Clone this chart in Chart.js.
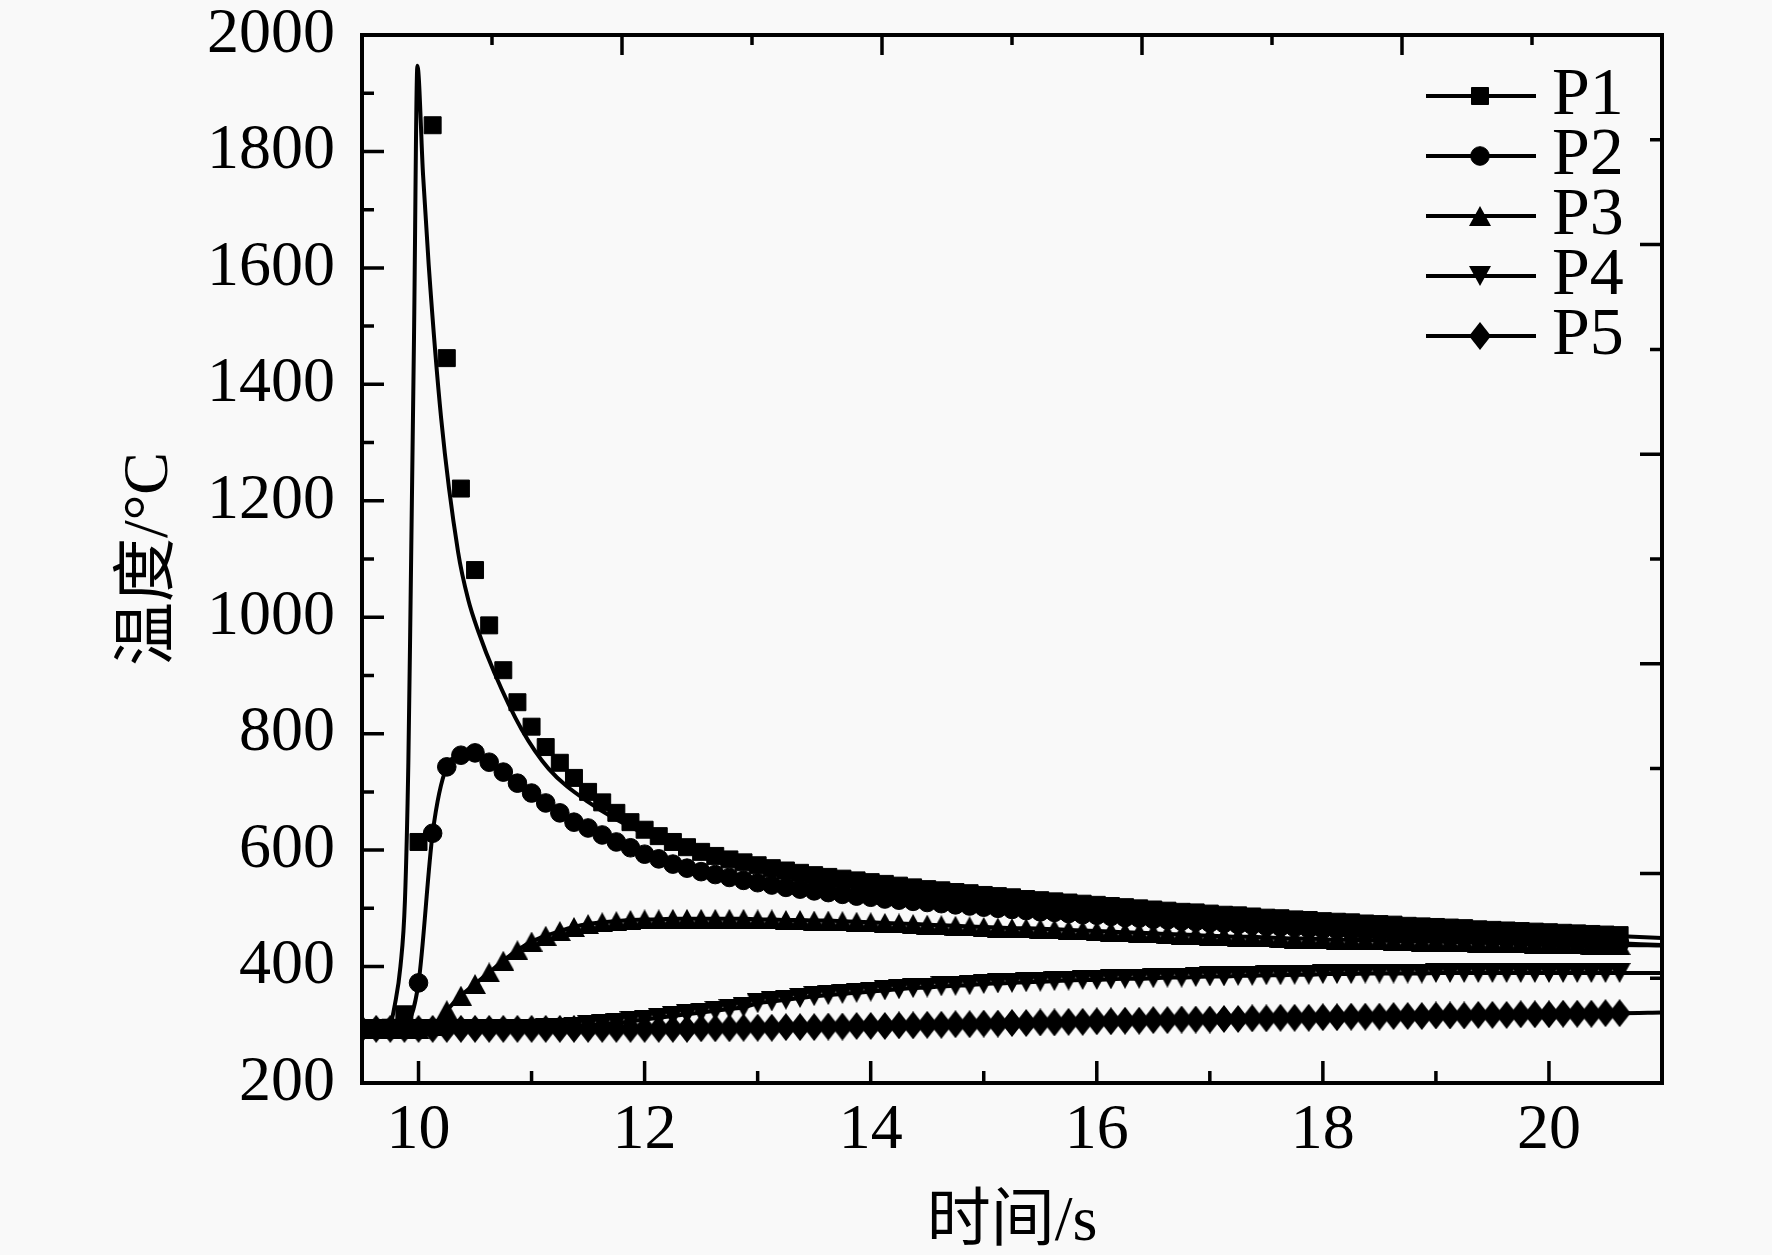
<!DOCTYPE html>
<html>
<head>
<meta charset="utf-8">
<script src="https://cdn.jsdelivr.net/npm/chart.js@4.4.1/dist/chart.umd.min.js"></script>
<style>
  html, body { margin: 0; padding: 0; background: #f9f9f9; }
  #wrap { width: 1772px; height: 1255px; }
</style>
</head>
<body>
<div id="wrap"><canvas id="chart" width="1772" height="1255"></canvas></div>
<script>
// time axis (s), one marker every 0.125 s, last point only carries the line to the frame
const time = [9.5, 9.625, 9.75, 9.875,
  10, 10.125, 10.25, 10.375, 10.5, 10.625, 10.75, 10.875,
  11, 11.125, 11.25, 11.375, 11.5, 11.625, 11.75, 11.875,
  12, 12.125, 12.25, 12.375, 12.5, 12.625, 12.75, 12.875,
  13, 13.125, 13.25, 13.375, 13.5, 13.625, 13.75, 13.875,
  14, 14.125, 14.25, 14.375, 14.5, 14.625, 14.75, 14.875,
  15, 15.125, 15.25, 15.375, 15.5, 15.625, 15.75, 15.875,
  16, 16.125, 16.25, 16.375, 16.5, 16.625, 16.75, 16.875,
  17, 17.125, 17.25, 17.375, 17.5, 17.625, 17.75, 17.875,
  18, 18.125, 18.25, 18.375, 18.5, 18.625, 18.75, 18.875,
  19, 19.125, 19.25, 19.375, 19.5, 19.625, 19.75, 19.875,
  20, 20.125, 20.25, 20.375, 20.5, 20.625,
  21];

const tempP1 = [293, 293, 295, 318,
  614, 1845, 1445, 1221, 1081, 986, 909, 854,
  812, 777, 750, 724, 700, 682, 664, 648,
  635, 624, 614, 605, 597, 590, 584, 579,
  574, 569, 565, 561, 557, 554, 551, 548,
  545, 542, 539, 536, 533, 531, 528, 526,
  523, 521, 519, 516, 514, 512, 510, 508,
  506, 504, 502, 500, 498, 496, 494, 493,
  491, 489, 488, 486, 484, 483, 481, 480,
  478, 477, 476, 474, 473, 472, 470, 469,
  468, 467, 466, 464, 463, 462, 461, 460,
  459, 458, 457, 456, 455, 454,
  449];

const tempP2 = [293, 293, 293, 298,
  372, 629, 743, 763, 767, 751, 734, 715,
  698, 681, 664, 648, 638, 626, 614, 604,
  593, 585, 576, 569, 563, 558, 553, 548,
  544, 540, 536, 533, 530, 527, 524, 521,
  519, 516, 514, 512, 510, 508, 506, 504,
  502, 500, 498, 496, 494, 493, 491, 489,
  488, 486, 484, 483, 481, 480, 478, 477,
  475, 474, 472, 471, 469, 468, 467, 465,
  464, 463, 461, 460, 459, 457, 456, 455,
  454, 452, 451, 450, 449, 448, 447, 446,
  445, 444, 443, 442, 441, 440,
  437];

const tempP3 = [293, 293, 293, 293,
  293, 298, 325, 350, 370, 390, 410, 428,
  443, 453, 461, 468, 473, 476, 478, 480,
  481, 481, 482, 482, 482, 482, 482, 482,
  481, 481, 480, 480, 479, 479, 478, 477,
  476, 475, 474, 473, 472, 471, 470, 469,
  468, 467, 466, 466, 465, 464, 463, 462,
  461, 460, 459, 458, 457, 456, 455, 454,
  453, 452, 451, 451, 450, 449, 448, 448,
  447, 446, 446, 445, 445, 444, 444, 443,
  443, 442, 442, 441, 441, 440, 440, 439,
  439, 438, 438, 437, 437, 437,
  436];

const tempP4 = [293, 293, 293, 293,
  293, 293, 293, 293, 293, 293, 293, 293,
  293, 294, 295, 297, 299, 301, 303, 306,
  309, 312, 315, 318, 321, 324, 327, 330,
  337, 340, 343, 346, 349, 351, 353, 355,
  357, 359, 361, 363, 364, 366, 367, 368,
  370, 371, 372, 373, 374, 375, 376, 377,
  377, 378, 379, 379, 380, 381, 381, 382,
  383, 383, 384, 384, 385, 385, 386, 386,
  387, 387, 387, 388, 388, 388, 388, 388,
  389, 389, 389, 389, 389, 389, 389, 389,
  389, 389, 389, 389, 389, 389,
  389];

const tempP5 = [293, 293, 293, 293,
  293, 293, 293, 293, 293, 293, 293, 293,
  293, 293, 293, 293, 293, 293, 293, 293,
  293, 293, 293, 293, 294, 294, 294, 295,
  295, 295, 296, 296, 296, 297, 297, 298,
  298, 298, 299, 299, 300, 300, 301, 301,
  302, 302, 303, 303, 304, 304, 305, 305,
  306, 306, 307, 307, 308, 308, 309, 309,
  309, 310, 310, 311, 311, 312, 312, 312,
  313, 313, 314, 314, 314, 315, 315, 315,
  316, 316, 316, 317, 317, 317, 318, 318,
  318, 319, 319, 319, 320, 320,
  321];

// the P1 curve itself runs a little ahead of its markers and peaks higher
const lineP1Time = [9.5, 9.7, 9.75, 9.79, 9.84, 9.88, 9.91, 9.93, 9.96, 9.99, 10.04, 10.09,
  10.2, 10.35, 10.44, 10.53, 10.67, 10.91, 11.15, 11.5, 12, 12.5, 13, 14, 15, 16, 17, 18, 19, 20, 21];
const lineP1Temp = [293, 294, 300, 334, 400, 514, 750, 1030, 1480, 1947, 1760, 1605,
  1342, 1112, 1030, 975, 905, 808, 740, 683, 628, 593, 572, 546, 524, 505, 489, 477, 467, 458, 449];

const xTicks = [10, 12, 14, 16, 18, 20];
const xMinorTicks = [11, 13, 15, 17, 19, 21];
const yTicks = [200, 400, 600, 800, 1000, 1200, 1400, 1600, 1800, 2000];
const yMinorTicks = [300, 500, 700, 900, 1100, 1300, 1500, 1700, 1900];
// top and right frame axes carry their own unlabeled ticks
const frameTicks = [0, 2, 4, 6, 8, 10];
const frameMinorTicks = [1, 3, 5, 7, 9];

const serif = "'Liberation Serif', 'Times New Roman', 'Noto Sans CJK SC', serif";

// Origin-like symbols: triangles and diamonds drawn to their own box
function marker(kind, w, h) {
  const c = document.createElement('canvas');
  c.width = w;
  c.height = h;
  const g = c.getContext('2d');
  g.fillStyle = '#000';
  g.beginPath();
  if (kind === 'up') {
    g.moveTo(w / 2, 0); g.lineTo(w, h); g.lineTo(0, h);
  } else if (kind === 'down') {
    g.moveTo(0, 0); g.lineTo(w, 0); g.lineTo(w / 2, h);
  } else {
    g.moveTo(w / 2, 0); g.lineTo(w, h / 2); g.lineTo(w / 2, h); g.lineTo(0, h / 2);
  }
  g.closePath();
  g.fill();
  return c;
}

const upTriangle = marker('up', 22, 20);
const downTriangle = marker('down', 22, 20);
const diamond = marker('diamond', 22, 28);

const hideTail = r => ctx => (ctx.raw && ctx.raw.x > 20.7 ? 0 : r);

function series(label, values, style, radius, showLine) {
  return {
    label: label,
    data: time.map((t, i) => ({ x: t, y: values[i] })),
    borderColor: '#000',
    backgroundColor: '#000',
    borderWidth: 4,
    pointStyle: style,
    pointRadius: hideTail(radius),
    pointBorderWidth: 1,
    pointBorderColor: '#000',
    pointBackgroundColor: '#000',
    showLine: showLine,
    cubicInterpolationMode: 'monotone',
    fill: false,
    legendRadius: radius,
    inLegend: true
  };
}

const datasets = [
  series('P1', tempP1, 'rect', 12, false),
  {
    label: 'P1 curve',
    data: lineP1Time.map((t, i) => ({ x: t, y: lineP1Temp[i] })),
    borderColor: '#000',
    borderWidth: 4,
    pointRadius: 0,
    cubicInterpolationMode: 'monotone',
    fill: false
  },
  series('P2', tempP2, 'circle', 9.3, true),
  series('P3', tempP3, upTriangle, 10, true),
  series('P4', tempP4, downTriangle, 10, true),
  series('P5', tempP5, diamond, 10, true)
];

const framePlugin = {
  id: 'frame',
  beforeDraw(chart) {
    const ctx = chart.ctx;
    ctx.save();
    ctx.fillStyle = '#f9f9f9';
    ctx.fillRect(0, 0, chart.width, chart.height);
    ctx.restore();
  },
  afterDatasetsDraw(chart) {
    const { ctx, chartArea: a, scales } = chart;
    const tick = (list, len, fn) => list.forEach(v => fn(v, len));
    ctx.save();
    ctx.strokeStyle = '#000';
    ctx.lineWidth = 3.5;
    ctx.beginPath();
    const bottomTick = (v, len) => {
      const px = scales.x.getPixelForValue(v);
      ctx.moveTo(px, a.bottom); ctx.lineTo(px, a.bottom - len);
    };
    const leftTick = (v, len) => {
      const py = scales.y.getPixelForValue(v);
      ctx.moveTo(a.left, py); ctx.lineTo(a.left + len, py);
    };
    const topTick = (v, len) => {
      const px = scales.x2.getPixelForValue(v);
      ctx.moveTo(px, a.top); ctx.lineTo(px, a.top + len);
    };
    const rightTick = (v, len) => {
      const py = scales.y2.getPixelForValue(v);
      ctx.moveTo(a.right, py); ctx.lineTo(a.right - len, py);
    };
    tick(xTicks, 22, bottomTick);
    tick(xMinorTicks, 12, bottomTick);
    tick(yTicks, 22, leftTick);
    tick(yMinorTicks, 12, leftTick);
    tick(frameTicks, 20, topTick);
    tick(frameMinorTicks, 10, topTick);
    tick(frameTicks, 22, rightTick);
    tick(frameMinorTicks, 12, rightTick);
    ctx.stroke();
    ctx.lineWidth = 4;
    ctx.strokeRect(a.left, a.top, a.right - a.left, a.bottom - a.top);
    ctx.restore();
  },
  afterDraw(chart) {
    // legend: short line with the marker in its middle, then the label
    const { ctx, chartArea: a } = chart;
    ctx.save();
    ctx.strokeStyle = '#000';
    ctx.fillStyle = '#000';
    ctx.font = '68px ' + serif;
    ctx.textBaseline = 'alphabetic';
    let row = 0;
    chart.data.datasets.forEach(ds => {
      if (!ds.inLegend) return;
      const y = a.top + 61 + row * 60;
      ctx.lineWidth = 4;
      ctx.beginPath();
      ctx.moveTo(a.right - 236, y);
      ctx.lineTo(a.right - 126, y);
      ctx.stroke();
      ctx.lineWidth = 1;
      Chart.helpers.drawPoint(ctx, {
        pointStyle: ds.pointStyle,
        rotation: 0,
        radius: ds.legendRadius,
        borderWidth: 1
      }, a.right - 182, y);
      ctx.fillText(ds.label, a.right - 110, y + 18);
      row++;
    });
    ctx.restore();
  }
};

new Chart(document.getElementById('chart'), {
  type: 'line',
  data: { datasets: datasets },
  options: {
    responsive: false,
    animation: false,
    devicePixelRatio: 1,
    layout: { padding: { left: 0, top: 35, right: 110, bottom: 0 } },
    plugins: {
      legend: { display: false },
      tooltip: { enabled: false }
    },
    scales: {
      x: {
        type: 'linear',
        position: 'bottom',
        min: 9.5,
        max: 21,
        afterBuildTicks: s => { s.ticks = xTicks.map(v => ({ value: v })); },
        afterFit: s => { s.height = 172; },
        grid: { display: false, drawTicks: true, tickLength: 16 },
        border: { display: false },
        ticks: {
          color: '#000',
          padding: 0,
          maxRotation: 0,
          callback: v => String(v),
          font: { family: serif, size: 64, lineHeight: 1 }
        },
        title: {
          display: true,
          text: '时间/s',
          color: '#000',
          padding: { top: 0, bottom: 0 },
          font: { family: serif, size: 64, lineHeight: 1 }
        }
      },
      y: {
        type: 'linear',
        position: 'left',
        min: 200,
        max: 2000,
        afterBuildTicks: s => { s.ticks = yTicks.map(v => ({ value: v })); },
        afterFit: s => { s.width = 362; },
        grid: { display: false, drawTicks: true, tickLength: 27 },
        border: { display: false },
        ticks: {
          color: '#000',
          padding: 0,
          callback: v => String(v),
          font: { family: serif, size: 64, lineHeight: 1 }
        },
        title: {
          display: true,
          text: '温度/°C',
          color: '#000',
          padding: { top: 118, bottom: 0 },
          font: { family: serif, size: 64, lineHeight: 1 }
        }
      },
      x2: { type: 'linear', position: 'top', min: 0, max: 10, display: false },
      y2: { type: 'linear', position: 'right', min: 0, max: 10, reverse: true, display: false }
    }
  },
  plugins: [framePlugin]
});
</script>
</body>
</html>
